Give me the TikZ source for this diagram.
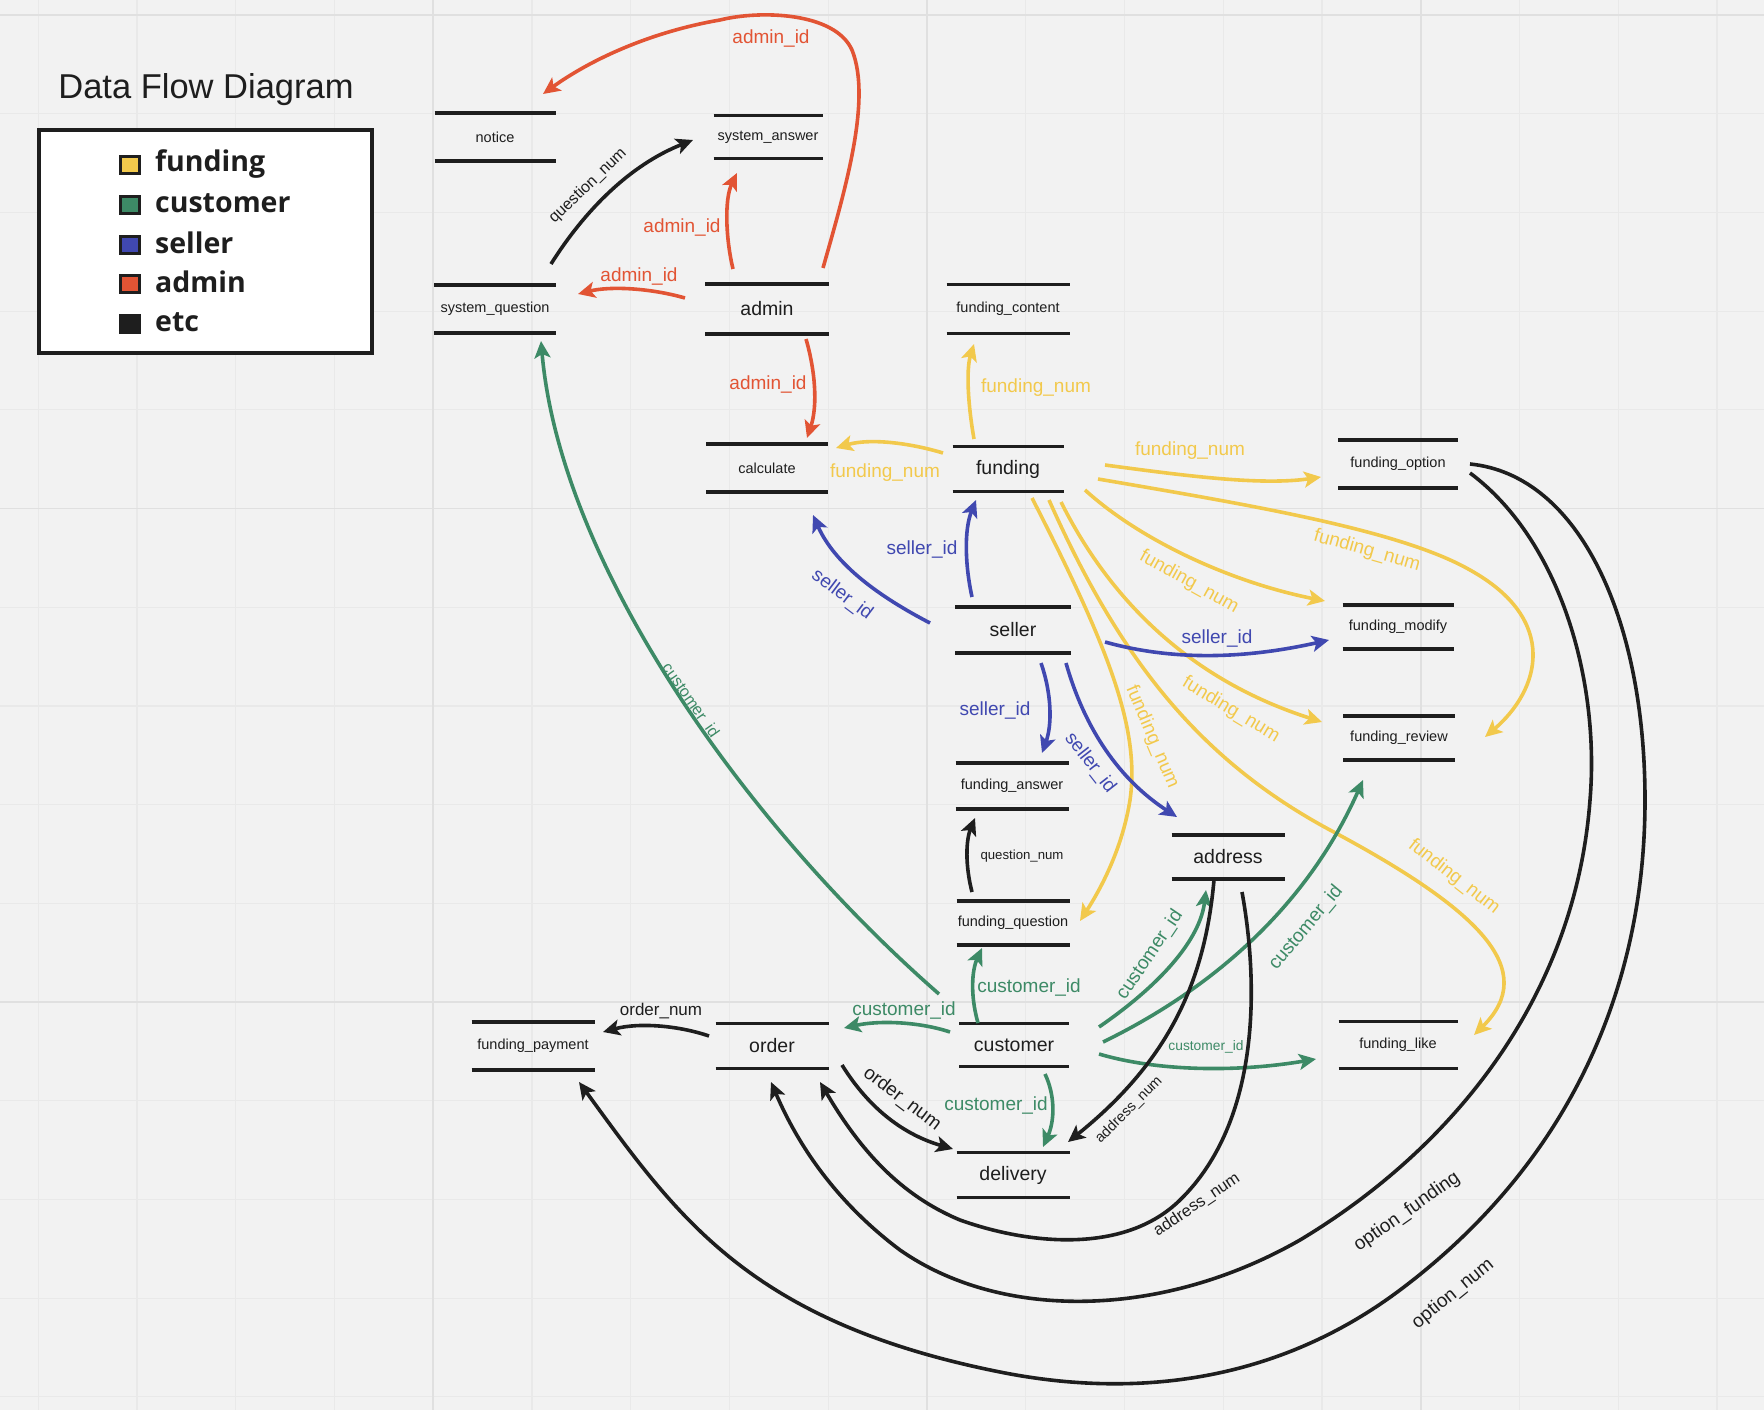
\documentclass[tikz,border=0pt]{standalone}
\usepackage{fontspec}
\setmainfont{Liberation Sans}
\newfontfamily\legendfont{Open Sans}
\usetikzlibrary{arrows.meta,calc}
\definecolor{bgc}{HTML}{F2F2F2}
\definecolor{gridminor}{HTML}{E9E9E9}
\definecolor{gridmajor}{HTML}{E0E0E0}
\definecolor{cfund}{HTML}{F2C94C}
\definecolor{ccust}{HTML}{3D8A66}
\definecolor{csell}{HTML}{4048B0}
\definecolor{cadmin}{HTML}{E25434}
\definecolor{cetc}{HTML}{1E1E1E}
\tikzset{
  store/.style={inner sep=0pt, outer sep=0pt, text=cetc},
  sm/.style={font=\fontsize{14.5}{17}\selectfont},
  lg/.style={font=\fontsize{19.5}{23}\selectfont},
  storeline/.style={line width=3.6pt, cetc},
  flow/.style={line width=3.6pt, -{Stealth[length=17pt,width=16pt,inset=4pt]}},
  ff/.style={flow, cfund},
  cf/.style={flow, ccust},
  sf/.style={flow, csell},
  af/.style={flow, cadmin},
  kf/.style={flow, cetc},
  lab/.style={font=\fontsize{19}{22}\selectfont, inner sep=0pt},
  labs/.style={font=\fontsize{16}{19}\selectfont, inner sep=0pt},
  legsq/.style={draw=cetc, line width=3pt, minimum width=19pt, minimum height=17pt, inner sep=0pt},
  legtxt/.style={font=\legendfont\bfseries\fontsize{28.5}{32}\selectfont, text=cetc, anchor=west, inner sep=0pt}
}
\begin{document}
\begin{tikzpicture}[x=1pt,y=-1pt]
\path[use as bounding box, fill=bgc] (0,0) rectangle (1764,1410);
% grid
\foreach \k in {0,...,17} {\draw[gridminor, line width=1.2pt] ({38.2+98.75*\k},0) -- ({38.2+98.75*\k},1410);}
\foreach \k in {0,...,14} {\draw[gridminor, line width=1.2pt] (0,{15+98.7*\k}) -- (1764,{15+98.7*\k});}
\foreach \xx in {433,927,1421} {\draw[gridmajor, line width=1.6pt] (\xx,0) -- (\xx,1410);}
\foreach \yy in {15,508.5,1002} {\draw[gridmajor, line width=1.6pt] (0,\yy) -- (1764,\yy);}

% title and legend
\node[font=\fontsize{34.5}{40}\selectfont, text=cetc, inner sep=0pt] (title) at (206,90) {Data Flow Diagram};
\node[draw=cetc, fill=white, line width=3.6pt, minimum width=333pt, minimum height=223pt, inner sep=0pt] (legend) at (205.5,241.5) {};
\node[legsq, fill=cfund] (lq1) at (130,165) {};
\node[legsq, fill=ccust] (lq2) at (130,205) {};
\node[legsq, fill=csell] (lq3) at (130,245) {};
\node[legsq, fill=cadmin] (lq4) at (130,284) {};
\node[legsq, fill=cetc] (lq5) at (130,324) {};
\node[legtxt] (lt1) at (155,164) {funding};
\node[legtxt] (lt2) at (155,203) {customer};
\node[legtxt] (lt3) at (155,243) {seller};
\node[legtxt] (lt4) at (155,282) {admin};
\node[legtxt] (lt5) at (155,322) {etc};

% data stores
\node[store, sm, minimum width=121pt, minimum height=48pt] (notice) at (495,137) {notice};
\node[store, sm, minimum width=109pt, minimum height=43pt] (sysans) at (768,137) {system\_answer};
\node[store, sm, minimum width=122pt, minimum height=48pt] (sysq) at (495,309) {system\_question};
\node[store, lg, minimum width=124pt, minimum height=50pt] (admin) at (767,309) {admin};
\node[store, sm, minimum width=123pt, minimum height=49pt] (fcontent) at (1008,309) {funding\_content};
\node[store, sm, minimum width=122pt, minimum height=48pt] (calc) at (767,468) {calculate};
\node[store, lg, minimum width=111pt, minimum height=45pt] (funding) at (1008,469) {funding};
\node[store, sm, minimum width=120pt, minimum height=48pt] (foption) at (1398,464) {funding\_option};
\node[store, lg, minimum width=116pt, minimum height=46pt] (seller) at (1013,630) {seller};
\node[store, sm, minimum width=111pt, minimum height=44pt] (fmodify) at (1398,627) {funding\_modify};
\node[store, sm, minimum width=112pt, minimum height=44pt] (freview) at (1399,738) {funding\_review};
\node[store, sm, minimum width=113pt, minimum height=46pt] (fanswer) at (1012,786) {funding\_answer};
\node[store, sm, minimum width=113pt, minimum height=44pt] (fquestion) at (1013,923) {funding\_question};
\node[store, lg, minimum width=113pt, minimum height=44pt] (address) at (1228,857) {address};
\node[store, lg, minimum width=110pt, minimum height=43pt] (customer) at (1014,1045) {customer};
\node[store, lg, minimum width=113pt, minimum height=45pt] (order) at (772,1046) {order};
\node[store, sm, minimum width=123pt, minimum height=48pt] (fpayment) at (533,1046) {funding\_payment};
\node[store, lg, minimum width=113pt, minimum height=45pt] (delivery) at (1013,1175) {delivery};
\node[store, sm, minimum width=119pt, minimum height=47pt] (flike) at (1398,1045) {funding\_like};
\foreach \n in {notice,sysans,sysq,admin,fcontent,calc,funding,foption,seller,fmodify,freview,fanswer,fquestion,address,customer,order,fpayment,delivery,flike}
  {\draw[storeline] (\n.north west) -- (\n.north east) (\n.south west) -- (\n.south east);}

% ---------- admin (red)
\draw[af] ($(admin.center)+(56,-41)$) .. controls (845,190) and (872,100) .. (852,50)
   .. controls (835,12) and (760,10) .. (720,20) .. controls (650,32) and (590,60) .. ($(notice.center)+(48,-43)$);
\draw[af] ($(admin.center)+(-34,-40)$) .. controls (726,240) and (724,200) .. ($(sysans.center)+(-31,36)$);
\draw[af] ($(admin.center)+(-82,-11)$) .. controls (650,288) and (610,286) .. ($(sysq.center)+(83,-15)$);
\draw[af] ($(admin.center)+(39,30)$) .. controls (815,370) and (818,405) .. ($(calc.center)+(40,-30)$);
\node[lab, text=cadmin] (la1) at (771,39) {admin\_id};
\node[lab, text=cadmin] (la2) at (682,228) {admin\_id};
\node[lab, text=cadmin] (la3) at (639,277) {admin\_id};
\node[lab, text=cadmin] (la4) at (768,385) {admin\_id};

% ---------- black question_num (system)
\draw[kf] ($(sysq.center)+(56,-45)$) .. controls (585,210) and (630,165) .. ($(sysans.center)+(-75,3)$);
\node[labs, text=cetc, rotate=44] (lk1) at (588,186) {question\_num};

% ---------- funding (yellow)
\draw[ff] ($(funding.center)+(-34,-30)$) .. controls (968,405) and (966,370) .. ($(fcontent.center)+(-34,35)$);
\draw[ff] ($(funding.center)+(-65,-16)$) .. controls (910,443) and (870,438) .. ($(calc.center)+(69,-20)$);
\draw[ff] ($(funding.center)+(97,-4)$) .. controls (1180,475) and (1260,486) .. ($(foption.center)+(-77,13)$);
\draw[ff] ($(funding.center)+(90,10)$) .. controls (1250,505) and (1400,530) .. (1470,570)
   .. controls (1560,620) and (1540,690) .. ($(freview.center)+(86,-1)$);
\draw[ff] ($(funding.center)+(77,21)$) .. controls (1140,540) and (1230,582) .. ($(fmodify.center)+(-73,-26)$);
\draw[ff] ($(funding.center)+(53,33)$) .. controls (1110,600) and (1190,680) .. ($(freview.center)+(-77,-16)$);
\draw[ff] ($(funding.center)+(24,29)$) .. controls (1110,650) and (1140,730) .. (1130,800)
   .. controls (1122,850) and (1100,890) .. ($(fquestion.center)+(67,-2)$);
\draw[ff] ($(funding.center)+(41,31)$) .. controls (1120,660) and (1200,760) .. (1330,830)
   .. controls (1480,910) and (1540,970) .. ($(flike.center)+(76,-10)$);
\node[lab, text=cfund] (lf1) at (1036,388) {funding\_num};
\node[lab, text=cfund] (lf2) at (885,473) {funding\_num};
\node[lab, text=cfund] (lf3) at (1190,451) {funding\_num};
\node[lab, text=cfund, rotate=-16] (lf4) at (1367,551) {funding\_num};
\node[lab, text=cfund, rotate=-29] (lf5) at (1189,582) {funding\_num};
\node[lab, text=cfund, rotate=-31] (lf6) at (1231,710) {funding\_num};
\node[lab, text=cfund, rotate=-67] (lf7) at (1152,737) {funding\_num};
\node[lab, text=cfund, rotate=-38] (lf8) at (1454,877) {funding\_num};

% ---------- seller (blue)
\draw[sf] ($(seller.center)+(-41,-33)$) .. controls (965,565) and (964,530) .. ($(funding.center)+(-32,31)$);
\draw[sf] ($(seller.center)+(-83,-7)$) .. controls (880,597) and (835,565) .. ($(calc.center)+(46,47)$);
\draw[sf] ($(seller.center)+(92,12)$) .. controls (1170,660) and (1240,660) .. ($(fmodify.center)+(-69,13)$);
\draw[sf] ($(seller.center)+(28,33)$) .. controls (1052,695) and (1052,725) .. ($(fanswer.center)+(30,-33)$);
\draw[sf] ($(seller.center)+(53,33)$) .. controls (1085,730) and (1120,780) .. ($(address.center)+(-51,-40)$);
\node[lab, text=csell] (ls1) at (922,549) {seller\_id};
\node[lab, text=csell, rotate=-37] (ls2) at (842,595) {seller\_id};
\node[lab, text=csell] (ls3) at (1217,638) {seller\_id};
\node[lab, text=csell] (ls4) at (995,710) {seller\_id};
\node[lab, text=csell, rotate=-52] (ls5) at (1090,763) {seller\_id};

% ---------- customer (green)
\draw[cf] ($(customer.center)+(-75,-51)$) .. controls (740,820) and (560,560) .. ($(sysq.center)+(46,32)$);
\draw[cf] ($(customer.center)+(-64,-13)$) .. controls (920,1022) and (880,1020) .. ($(order.center)+(72,-18)$);
\draw[cf] ($(customer.center)+(-36,-22)$) .. controls (970,995) and (972,970) .. ($(fquestion.center)+(-31,25)$);
\draw[cf] ($(customer.center)+(85,-18)$) .. controls (1160,985) and (1200,940) .. ($(address.center)+(-22,33)$);
\draw[cf] ($(customer.center)+(89,-3)$) .. controls (1220,985) and (1310,900) .. ($(freview.center)+(-36,42)$);
\draw[cf] ($(customer.center)+(85,9)$) .. controls (1160,1072) and (1240,1072) .. ($(flike.center)+(-82,14)$);
\draw[cf] ($(customer.center)+(31,29)$) .. controls (1055,1095) and (1055,1120) .. ($(delivery.center)+(30,-28)$);
\node[labs, text=ccust, rotate=-55] (lc1) at (690,701) {customer\_id};
\node[lab, text=ccust] (lc2) at (904,1010) {customer\_id};
\node[lab, text=ccust] (lc3) at (1029,987) {customer\_id};
\node[lab, text=ccust, rotate=56] (lc4) at (1150,955) {customer\_id};
\node[lab, text=ccust, rotate=50] (lc5) at (1306,928) {customer\_id};
\node[font=\fontsize{13.8}{16}\selectfont, inner sep=0pt, text=ccust] (lc6) at (1206,1047) {customer\_id};
\node[lab, text=ccust] (lc7) at (996,1105) {customer\_id};

% ---------- etc (black)
\draw[kf] ($(fquestion.center)+(-41,-31)$) .. controls (965,865) and (966,840) .. ($(fanswer.center)+(-37,32)$);
\node[font=\fontsize{13.2}{16}\selectfont, inner sep=0pt, text=cetc] (lk2) at (1022,856) {question\_num};
\draw[kf] ($(order.center)+(-63,-10)$) .. controls (680,1026) and (640,1022) .. ($(fpayment.center)+(70,-14)$);
\node[font=\fontsize{17}{20}\selectfont, inner sep=0pt, text=cetc] (lk3) at (661,1011) {order\_num};
\draw[kf] ($(order.center)+(70,19)$) .. controls (870,1110) and (905,1135) .. ($(delivery.center)+(-60,-26)$);
\node[lab, text=cetc, rotate=-37] (lk4) at (902,1099) {order\_num};
\draw[kf] ($(address.center)+(-14,23)$) .. controls (1205,980) and (1170,1060) .. ($(delivery.center)+(55,-33)$);
\node[font=\fontsize{14.5}{17}\selectfont, inner sep=0pt, text=cetc, rotate=45] (lk5) at (1129,1110) {address\_num};
\draw[kf] ($(address.center)+(14,35)$) .. controls (1258,980) and (1262,1120) .. (1180,1200)
   .. controls (1125,1254) and (1030,1245) .. (960,1220) .. controls (900,1195) and (860,1150) .. ($(order.center)+(48,36)$);
\node[font=\fontsize{16.5}{19}\selectfont, inner sep=0pt, text=cetc, rotate=34] (lk6) at (1197,1205) {address\_num};
\draw[kf] ($(foption.center)+(72,9)$) .. controls (1560,540) and (1600,680) .. (1590,800)
   .. controls (1575,1000) and (1450,1150) .. (1300,1240) .. controls (1160,1320) and (1000,1320) .. (900,1250)
   .. controls (840,1205) and (800,1150) .. ($(order.center)+(-1,36)$);
\node[lab, text=cetc, rotate=35] (lk7) at (1407,1212) {option\_funding};
\draw[kf] ($(foption.center)+(72,0)$) .. controls (1580,475) and (1645,620) .. (1645,800)
   .. controls (1645,1000) and (1560,1170) .. (1400,1290) .. controls (1280,1380) and (1140,1400) .. (1000,1372)
   .. controls (750,1322) and (678,1218) .. ($(fpayment.center)+(46,36)$);
\node[lab, text=cetc, rotate=39] (lk8) at (1453,1294) {option\_num};
\end{tikzpicture}
\end{document}
